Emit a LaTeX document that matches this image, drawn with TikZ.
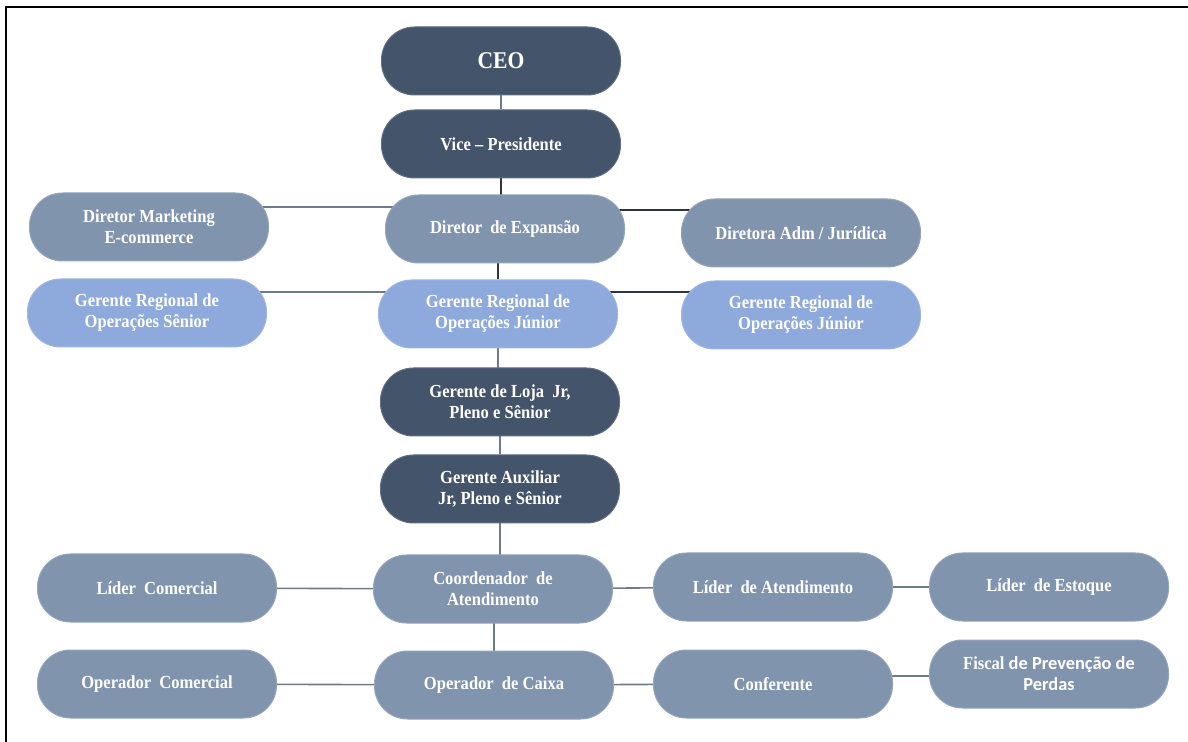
\documentclass[tikz,border=0pt]{standalone}
\usepackage{fontspec}
\setmainfont[FakeStretch=0.9]{Liberation Serif}
\newfontfamily\calibrifont{Carlito}
\usetikzlibrary{positioning,backgrounds}
\definecolor{slateDark}{HTML}{44546A}
\definecolor{slateMid}{HTML}{8194AE}
\definecolor{slateLight}{HTML}{8EA9DB}
\definecolor{linkGray}{HTML}{6E7B8D}
\definecolor{linkDark}{HTML}{2F3540}
\newcommand{\wsp}{\hspace{2pt}}

\tikzset{
  unit/.style={rounded corners=16.5pt, minimum width=119.5pt, minimum height=34pt,
    text=white, font=\bfseries\fontsize{9.2}{10.5}\selectfont, align=center, inner sep=2pt,
    fill=#1, draw=#1!85!white, line width=0.5pt},
  darkunit/.style={unit=slateDark},
  midunit/.style={unit=slateMid},
  lightunit/.style={unit=slateLight},
  link/.style={draw=linkGray, line width=0.8pt},
  darklink/.style={draw=linkDark, line width=0.7pt}
}

\begin{document}
\begin{tikzpicture}[x=0.5pt,y=-0.5pt]
\useasboundingbox (0,0) rectangle (1188,742);
\draw[line width=1pt] (6,742) -- (6,7.5) -- (1188,7.5);

% top
\node[darkunit,font=\bfseries\fontsize{12}{13}\selectfont] (ceo) at (501,61) {CEO};
\node[darkunit] (vp) at (501,144) {Vice -- Presidente};
% directors
\node[midunit] (mkt) at (149,227) {Diretor Marketing\\E-commerce};
\node[midunit] (exp) at (505,229) {Diretor \wsp de Expansão};
\node[midunit] (adm) at (801,233) {Diretora Adm / Jurídica};
% regional managers
\node[lightunit] (grs) at (147,313) {Gerente Regional de\\Operações Sênior};
\node[lightunit] (grj) at (498,314) {Gerente Regional de\\Operações Júnior};
\node[lightunit] (grr) at (801,315) {Gerente Regional de\\Operações Júnior};
% store
\node[darkunit] (loja) at (500,402) {Gerente de Loja \wsp Jr,\\Pleno e Sênior};
\node[darkunit] (aux) at (500,489) {Gerente Auxiliar\\Jr, Pleno e Sênior};
% leaders
\node[midunit] (lcom) at (157,588) {Líder \wsp Comercial};
\node[midunit] (coord) at (493,589) {Coordenador \wsp de\\Atendimento};
\node[midunit] (latend) at (773,587) {Líder \wsp de Atendimento};
\node[midunit] (lest) at (1049,587) {Líder \wsp de Estoque};
% operators
\node[midunit] (opcom) at (157,684) {Operador \wsp Comercial};
\node[midunit] (opcx) at (494,685) {Operador \wsp de Caixa};
\node[midunit] (conf) at (773,684) {Conferente};
\node[midunit] (fisc) at (1049,674) {Fiscal {\calibrifont de Prevenção de}\\{\calibrifont Perdas}};

\begin{scope}[on background layer]
\draw[link] (ceo) -- (vp);
\draw[darklink] (vp) -- (vp |- exp);
\draw[link] ([yshift=10pt]mkt.center) -- ([yshift=10pt]mkt.center -| exp.center);
\draw[darklink] ([yshift=11.5pt]adm.center) -- ([yshift=11.5pt]adm.center -| exp.center);
\draw[darklink] (grj) -- (grj |- exp);
\draw[link] ([yshift=10.5pt]grs.center) -- ([yshift=10.5pt]grs.center -| grj.center);
\draw[darklink] ([yshift=11.5pt]grr.center) -- ([yshift=11.5pt]grr.center -| grj.center);
\draw[link] (grj) -- (grj |- loja);
\draw[link] (loja) -- (aux);
\draw[link] (aux) -- (aux |- coord);
\draw[link] (lcom) -- (coord);
\draw[link] (coord) -- (latend);
\draw[link] (latend) -- (lest);
\draw[link] (opcx) -- (opcx |- coord);
\draw[link] (opcom) -- (opcx);
\draw[link] (opcx) -- (conf);
\draw[link] ([yshift=-1pt]fisc.center) -- ([yshift=-1pt]fisc.center -| conf.center);
\end{scope}
\end{tikzpicture}
\end{document}
